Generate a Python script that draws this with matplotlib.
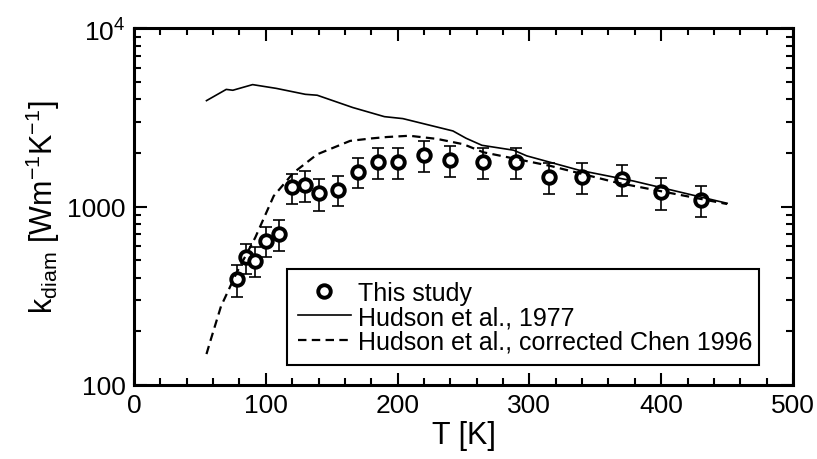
import numpy as np
import matplotlib
matplotlib.use("Agg")
import matplotlib.pyplot as plt
from matplotlib.ticker import FixedLocator, FixedFormatter, MultipleLocator, LogLocator, NullFormatter

plt.rcParams['font.family'] = ['Liberation Sans', 'DejaVu Sans']
plt.rcParams['mathtext.fontset'] = 'custom'
plt.rcParams['mathtext.rm'] = 'Liberation Sans'

# This study (points + error bars)
t_study = [78, 85, 92, 100, 110, 120, 130, 140, 155, 170, 185, 200, 220, 240,
           265, 290, 315, 340, 370, 400, 430]
k_study = [393, 519, 497, 646, 705, 1282, 1319, 1186, 1248, 1575, 1771, 1771,
           1959, 1820, 1783, 1783, 1475, 1475, 1426, 1203, 1091]
k_err = [80, 100, 95, 125, 140, 250, 260, 235, 245, 310, 350, 350,
         390, 360, 355, 355, 290, 290, 285, 240, 215]

# Hudson et al., 1977
t_hudson = [55, 70, 75, 90, 108, 130, 139, 166, 190, 204, 242, 252, 264,
            288, 298, 338, 379, 450]
k_hudson = [3935, 4550, 4500, 4840, 4610, 4270, 4220, 3600, 3200, 3120,
            2660, 2420, 2210, 2075, 1928, 1600, 1393, 1045]

# Hudson et al., corrected Chen 1996
t_chen = [55, 58, 66, 78, 92, 106, 121, 139, 164, 180, 192, 209, 230, 250,
          265, 316, 366, 450]
k_chen = [149, 177, 276, 428, 671, 1148, 1550, 1967, 2340, 2415, 2460, 2500,
          2400, 2240, 2020, 1693, 1366, 1035]

fig = plt.figure(figsize=(8.17, 4.6), dpi=100)
ax = fig.add_axes([0.164, 0.161, 0.8066, 0.775])

ax.errorbar(t_study, k_study, yerr=k_err, fmt='none', ecolor='black',
            elinewidth=1.2, capsize=4, capthick=1.2)
ax.plot(t_study, k_study, 'o', ms=9, mfc='white', mec='black', mew=2.8,
        label='This study')
ax.plot(t_hudson, k_hudson, '-', color='black', lw=1.2,
        label='Hudson et al., 1977')
ax.plot(t_chen, k_chen, '--', color='black', lw=1.6, dashes=(3.8, 2.4),
        label='Hudson et al., corrected Chen 1996')

ax.set_yscale('log')
ax.set_xlim(0, 500)
ax.set_ylim(100, 10000)

ax.xaxis.set_major_locator(MultipleLocator(100))
ax.xaxis.set_minor_locator(MultipleLocator(20))
ax.yaxis.set_major_locator(FixedLocator([100, 1000, 10000]))
ax.yaxis.set_major_formatter(FixedFormatter(['100', '1000', r'10$^4$']))
ax.yaxis.set_minor_locator(LogLocator(base=10, subs=np.arange(2, 10)))
ax.yaxis.set_minor_formatter(NullFormatter())

ax.tick_params(which='both', direction='in', top=True, right=True,
               labelsize=19, width=1.5, pad=6)
ax.tick_params(which='major', length=9)
ax.tick_params(which='minor', length=5)
for s in ax.spines.values():
    s.set_linewidth(2.2)

ax.set_xlabel('T [K]', fontsize=22, labelpad=2)
ax.set_ylabel(r'k$_{\rm diam}$ [Wm$^{-1}$K$^{-1}$]', fontsize=22, labelpad=4)

leg = ax.legend(loc='lower left', bbox_to_anchor=(0.232, 0.056, 0.716, 0.272),
                mode='expand', fontsize=18, frameon=True, fancybox=False,
                edgecolor='black', framealpha=1, handlelength=2.1,
                handletextpad=0.3, labelspacing=0.02, borderpad=0.45,
                borderaxespad=0)
leg.get_frame().set_linewidth(1.5)

fig.savefig('out.png', dpi=100)
